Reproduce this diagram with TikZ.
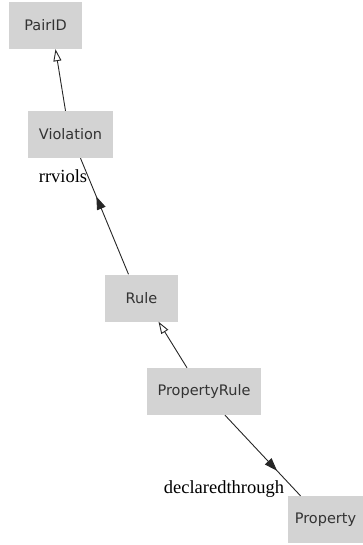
\documentclass[tikz,border=0pt]{standalone}
\usepackage{fontspec}
\setmainfont{Liberation Serif}
\newfontfamily\boxfont{DejaVu Sans}
\usetikzlibrary{arrows.meta,decorations.markings}
\definecolor{boxgray}{HTML}{D3D3D3}
\tikzset{
  cls/.style={draw=none,fill=boxgray,font=\boxfont\fontsize{14.5}{17}\selectfont,text=black!80,minimum height=47pt,inner sep=0pt},
  edge/.style={draw=black!85,line width=0.9pt},
  gen/.style={edge,-{Triangle[open,length=12pt,width=8pt]}},
  midarrow/.style={edge,decoration={markings,mark=at position #1 with {\arrow{Triangle[length=13pt,width=9pt]}}},postaction={decorate}},
  midback/.style={edge,decoration={markings,mark=at position #1 with {\arrowreversed{Triangle[length=13pt,width=9pt]}}},postaction={decorate}},
  lbl/.style={font=\fontsize{18.5}{21}\selectfont,inner sep=0pt}
}
\begin{document}
\begin{tikzpicture}[x=1pt,y=-1pt]
\useasboundingbox (0,0) rectangle (363,545);
\node[cls,minimum width=73pt] (pair) at (45.5,25.5) {PairID};
\node[cls,minimum width=85pt] (viol) at (70.5,134.5) {Violation};
\node[cls,minimum width=73pt] (rule) at (141.5,298) {Rule};
\node[cls,minimum width=114pt] (prule) at (204,391.5) {PropertyRule};
\node[cls,minimum width=75pt] (prop) at (325.5,519.5) {Property};
\draw[gen] ([xshift=-5pt]viol.north) -- ([xshift=10pt]pair.south);
\draw[midback=0.33] ([xshift=10pt]viol.south) -- ([xshift=-13pt]rule.north);
\draw[gen] ([xshift=-17pt]prule.north) -- ([xshift=17pt]rule.south);
\draw[midarrow=0.69] ([xshift=21pt]prule.south) -- ([xshift=-25pt]prop.north);
\node[lbl] (l1) at (63,176) {rrviols};
\node[lbl] (l2) at (224,489) {declaredthrough};
\end{tikzpicture}
\end{document}
